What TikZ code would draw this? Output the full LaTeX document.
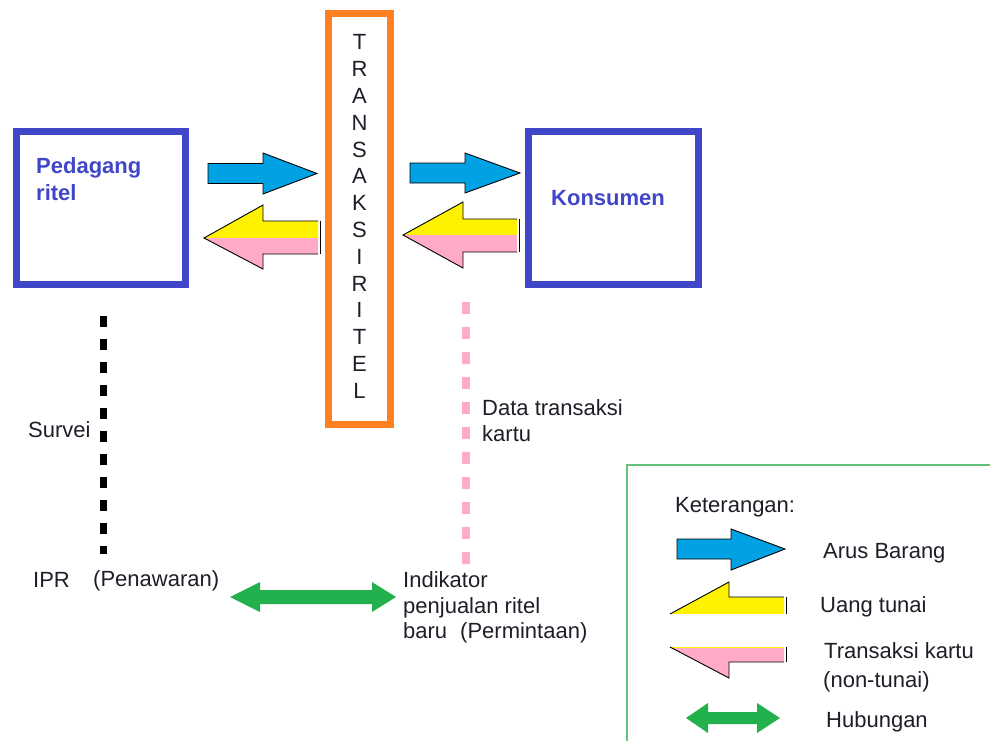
\documentclass[tikz,border=0pt]{standalone}
\usepackage{fontspec}
\setmainfont{Liberation Sans}
\definecolor{boxblue}{RGB}{64,70,200}
\definecolor{trorange}{RGB}{255,128,32}
\definecolor{arrblue}{RGB}{0,162,228}
\definecolor{cashyellow}{RGB}{255,242,0}
\definecolor{cardpink}{RGB}{255,170,200}
\definecolor{linkgreen}{RGB}{34,177,76}
\definecolor{legendgreen}{RGB}{100,195,120}
\definecolor{txt}{RGB}{30,30,40}
\tikzset{
  lbl/.style={anchor=base west, inner sep=0pt, text=txt, font=\fontsize{22}{26}\selectfont},
  boldlbl/.style={anchor=base west, inner sep=0pt, text=boxblue, font=\fontsize{22}{26}\selectfont\bfseries},
  partybox/.style={draw=boxblue, line width=7pt, minimum width=169pt, minimum height=153pt, inner sep=0pt},
  trbox/.style={draw=trorange, line width=7pt, minimum width=62pt, minimum height=411pt, inner sep=0pt},
  goods/.style={fill=arrblue, draw=black, line width=0.9pt, line join=miter},
  outl/.style={draw=black, line width=0.9pt},
  link/.style={fill=linkgreen, draw=none},
  surveyline/.style={draw=black, line width=7pt, dash pattern=on 10.5pt off 12.5pt},
  cardline/.style={draw=cardpink, line width=8pt, dash pattern=on 12pt off 13pt}
}
\begin{document}
\begin{tikzpicture}[x=1pt, y=-1pt]
\useasboundingbox (0,0) rectangle (990,740);
\clip (0,0) rectangle (990,740);

% boxes
\node[partybox] (ped) at (100.5,207.5) {};
\node[partybox, minimum width=170pt] (kon) at (613,207.5) {};
\node[trbox] (tr) at (359.5,219) {};
\node[boldlbl] (pedt1) at (36,173) {Pedagang};
\node[boldlbl] (pedt2) at (36,200) {ritel};
\node[boldlbl] (kont) at (551,205) {Konsumen};
\node[anchor=north, inner sep=0pt, align=center, text=txt,
      font=\fontsize{22}{26.8}\selectfont] (trt) at (359.5,34.5)
  {T\\R\\A\\N\\S\\A\\K\\S\\I\\R\\I\\T\\E\\L};

% goods arrows
\path[goods] (208,163.5)--(263,163.5)--(263,153)--(317,173.5)--(263,194)--(263,183.5)--(208,183.5)--cycle;
\path[goods] (410,163)--(465,163)--(465,153)--(520,173)--(465,193)--(465,183)--(410,183)--cycle;

% payment arrows
\fill[cashyellow] (318,221)--(263,221)--(263,205)--(204,238)--(318,238)--cycle;
\fill[cardpink] (204,238)--(318,238)--(318,254)--(263,254)--(263,269)--cycle;
\draw[outl] (318,221)--(263,221)--(263,205)--(204,238)--(263,269)--(263,254)--(318,254);
\draw[outl] (320,221)--(320,254);

\fill[cashyellow] (517,219)--(463,219)--(463,202)--(403,235)--(517,235)--cycle;
\fill[cardpink] (403,235)--(517,235)--(517,252)--(463,252)--(463,268)--cycle;
\draw[outl] (517,219)--(463,219)--(463,202)--(403,235)--(463,268)--(463,252)--(517,252);
\draw[outl] (519,219)--(519,252);

% dashed lines
\coordinate (sv1) at (103,316);
\coordinate (sv2) at (103,554);
\draw[surveyline] (sv1) -- (sv2);
\coordinate (cd1) at (466,302);
\coordinate (cd2) at (466,564);
\draw[cardline] (cd1) -- (cd2);

% labels
\node[lbl] (survei) at (28,437) {Survei};
\node[lbl] (ipr) at (33,587) {IPR};
\node[lbl] (penaw) at (93,586) {(Penawaran)};
\node[lbl] (data1) at (482,415) {Data transaksi};
\node[lbl] (data2) at (482,441.5) {kartu};
\node[lbl] (ind1) at (403,587) {Indikator};
\node[lbl] (ind2) at (403,613) {penjualan ritel};
\node[lbl] (ind3) at (403,638.5) {baru};
\node[lbl] (perm) at (460,638.5) {(Permintaan)};

% relation arrow
\path[link] (230,597)--(260,582)--(260,590)--(372,590)--(372,582)--(396,597)--(372,612)--(372,604)--(260,604)--(260,612)--cycle;

% legend
\draw[legendgreen, line width=2pt] (627,760) -- (627,465) -- (1000,465);
\node[lbl] (ket) at (675,512) {Keterangan:};
\path[goods] (677,539)--(731,539)--(731,529)--(785,549)--(731,570)--(731,559)--(677,559)--cycle;
\node[lbl] (arus) at (823,558) {Arus Barang};
\fill[cashyellow] (784,597)--(729,597)--(729,582)--(670,614)--(784,614)--cycle;
\draw[outl] (784,597)--(729,597)--(729,582)--(670,614);
\draw[outl] (786,597)--(786,614);
\node[lbl] (uang) at (820,612) {Uang tunai};
\fill[cardpink] (670,647)--(784,647)--(784,662)--(729,662)--(729,678)--cycle;
\draw[cashyellow, line width=1pt] (670,647)--(784,647);
\draw[outl] (670,647)--(729,678)--(729,662)--(784,662);
\draw[outl] (786,647)--(786,662);
\node[lbl] (tk1) at (824,658) {Transaksi kartu};
\node[lbl] (tk2) at (823,687) {(non-tunai)};
\path[link] (686,718)--(708,703)--(708,712)--(757,712)--(757,703)--(780,718)--(757,733)--(757,724)--(708,724)--(708,733)--cycle;
\node[lbl] (hub) at (826,727) {Hubungan};
\end{tikzpicture}
\end{document}
